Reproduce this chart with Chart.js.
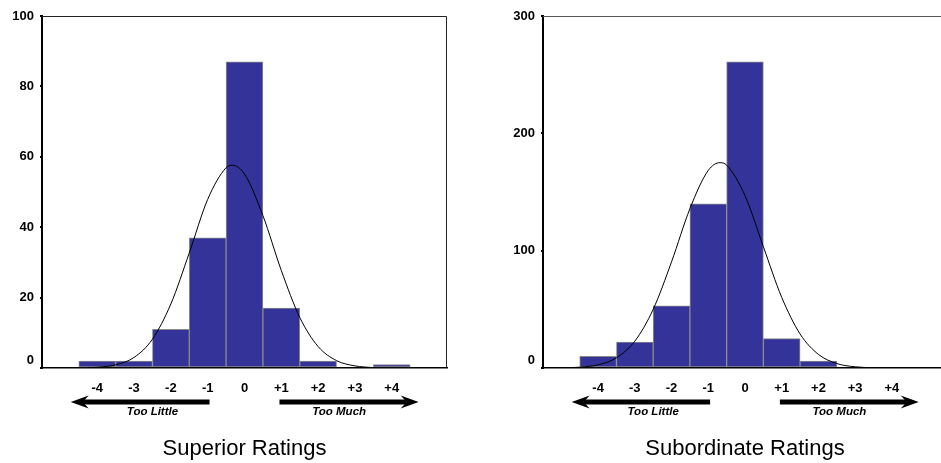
<!DOCTYPE html>
<html>
<head>
<meta charset="utf-8">
<title>Superior and Subordinate Ratings</title>
<script src="https://cdn.jsdelivr.net/npm/chart.js@4.4.1/dist/chart.umd.min.js"></script>
<style>
  html, body { margin: 0; padding: 0; background: #fff; overflow: hidden; }
  body { width: 941px; height: 463px; position: relative; }
  .panel { position: absolute; top: 0; height: 463px; }
  #leftPanel { left: 0; width: 470px; }
  #rightPanel { left: 470px; width: 478px; }
</style>
</head>
<body>
<div class="panel" id="leftPanel"><canvas id="superiorChart"></canvas></div>
<div class="panel" id="rightPanel"><canvas id="subordinateChart"></canvas></div>
<script>
// rating bins (-4 = too little ... +4 = too much)
const bins = [-4, -3, -2, -1, 0, 1, 2, 3, 4];
const binLabels = ['-4', '-3', '-2', '-1', '0', '+1', '+2', '+3', '+4'];

// bar heights
const superiorCounts = [2, 2, 11, 37, 87, 17, 2, 0, 1];
const subordinateCounts = [10, 22, 53, 140, 261, 25, 6, 0, 0];

// fitted curve, points
const superiorCurveX = [-4.25, -4, -3.5, -3, -2.5, -2, -1.5, -1, -0.5, -0.33, 0, 0.5, 1, 1.5, 2, 2.5, 3, 3.5];
const superiorCurveY = [0.1, 0.2, 0.9, 3, 8.2, 18.2, 32.7, 47.9, 56.9, 57.6, 55.1, 43.3, 27.7, 14.4, 6.1, 2.1, 0.6, 0.1];
const subordinateCurveX = [-4.75, -4.5, -4, -3.5, -3, -2.5, -2, -1.5, -1, -0.68, -0.5, 0, 0.5, 1, 1.5, 2, 2.5, 3, 3.5];
const subordinateCurveY = [0.3, 0.7, 2.7, 8.7, 22.9, 50, 90.5, 135.8, 168.4, 175, 172.9, 146.9, 103.4, 60.2, 29, 11.6, 3.8, 1, 0.2];

// y axis ticks
const superiorTicks = [0, 20, 40, 60, 80, 100];
const subordinateTicks = [0, 100, 200, 300];

const FONT = "'Liberation Sans', Arial, Helvetica, sans-serif";
Chart.defaults.font.family = FONT;
Chart.defaults.color = '#000';

function drawArrow(ctx, from, to, y) {
    // shaft plus a notched head, tip at "to"
    const dir = Math.sign(to - from);
    const shaftEnd = to - dir * 12;
    ctx.fillRect(Math.min(from, shaftEnd), y - 2.5, Math.abs(shaftEnd - from), 5);
    ctx.beginPath();
    ctx.moveTo(to, y);
    ctx.lineTo(to - dir * 18, y - 6.5);
    ctx.lineTo(to - dir * 12, y);
    ctx.lineTo(to - dir * 18, y + 6.5);
    ctx.closePath();
    ctx.fill();
}

const ratingDecor = {
    id: 'ratingDecor',
    afterDraw(chart, args, opts) {
        const ctx = chart.ctx;
        const area = chart.chartArea;
        const x = chart.scales.x;
        ctx.save();
        // frame: top and right edges
        ctx.strokeStyle = opts.frameColor;
        ctx.lineWidth = 1;
        ctx.beginPath();
        ctx.moveTo(area.left, area.top + 0.5);
        ctx.lineTo(area.right - 0.5, area.top + 0.5);
        ctx.lineTo(area.right - 0.5, area.bottom);
        ctx.stroke();

        // too little / too much arrows
        ctx.fillStyle = '#000';
        const ay = area.bottom + 34;
        drawArrow(ctx, x.getPixelForValue(-0.95), x.getPixelForValue(-4.72), ay);
        drawArrow(ctx, x.getPixelForValue(0.95), x.getPixelForValue(4.73), ay);
        ctx.font = "italic bold 11.5px " + FONT;
        ctx.textAlign = 'center';
        ctx.textBaseline = 'middle';
        ctx.fillText('Too Little', x.getPixelForValue(-2.5), ay + 10);
        ctx.fillText('Too Much', x.getPixelForValue(2.57), ay + 10);

        // panel title under the axis
        ctx.font = "22px " + FONT;
        ctx.fillText(opts.title, x.getPixelForValue(0), area.bottom + 81);
        ctx.restore();
    }
};

function makeChart(id, counts, curveX, curveY, yTicks, title, axisWidth, padRight, frameColor) {
    const ctx = document.getElementById(id).getContext('2d');
    return new Chart(ctx, {
        type: 'bar',
        data: {
            datasets: [{
                type: 'line',
                data: curveX.map((v, i) => ({ x: v, y: curveY[i] })),
                borderColor: '#000',
                borderWidth: 1,
                pointRadius: 0,
                fill: false,
                cubicInterpolationMode: 'monotone',
                order: 0
            }, {
                type: 'bar',
                data: bins.map((b, i) => ({ x: b, y: counts[i] })),
                backgroundColor: '#333399',
                borderColor: '#8a8a8a',
                borderWidth: 1,
                borderSkipped: false,
                barPercentage: 1,
                categoryPercentage: 1,
                order: 1
            }]
        },
        options: {
            responsive: true,
            maintainAspectRatio: false,
            animation: false,
            events: [],
            layout: { padding: { top: 16, right: padRight, left: 0, bottom: 0 } },
            scales: {
                x: {
                    type: 'linear',
                    offset: false,
                    min: -5.5,
                    max: 5.5,
                    afterBuildTicks: s => { s.ticks = bins.map(v => ({ value: v })); },
                    afterFit: s => { s.height = 95; },
                    grid: { display: false, drawTicks: false, tickLength: 0, offset: false },
                    border: { color: '#000', width: 1.5 },
                    ticks: {
                        padding: 13,
                        maxRotation: 0,
                        autoSkip: false,
                        font: { size: 13, weight: 'bold' },
                        callback: v => binLabels[bins.indexOf(v)]
                    }
                },
                y: {
                    min: 0,
                    max: yTicks[yTicks.length - 1],
                    afterBuildTicks: s => { s.ticks = yTicks.map(v => ({ value: v })); },
                    afterFit: s => { s.width = axisWidth; },
                    grid: { drawOnChartArea: false, tickLength: 2, color: '#000', lineWidth: 2 },
                    border: { color: '#000', width: 2 },
                    ticks: {
                        padding: 6,
                        font: { size: 13, weight: 'bold' },
                        // the zero label sits a little above the axis
                        callback: v => v === 0 ? ['0', ''] : String(v)
                    }
                }
            },
            plugins: {
                legend: { display: false },
                tooltip: { enabled: false },
                ratingDecor: { title: title, frameColor: frameColor }
            }
        },
        plugins: [ratingDecor]
    });
}

makeChart('superiorChart', superiorCounts, superiorCurveX, superiorCurveY, superiorTicks,
    'Superior Ratings', 42, 23, '#222');
makeChart('subordinateChart', subordinateCounts, subordinateCurveX, subordinateCurveY, subordinateTicks,
    'Subordinate Ratings', 73, 1, '#555');
</script>
</body>
</html>
